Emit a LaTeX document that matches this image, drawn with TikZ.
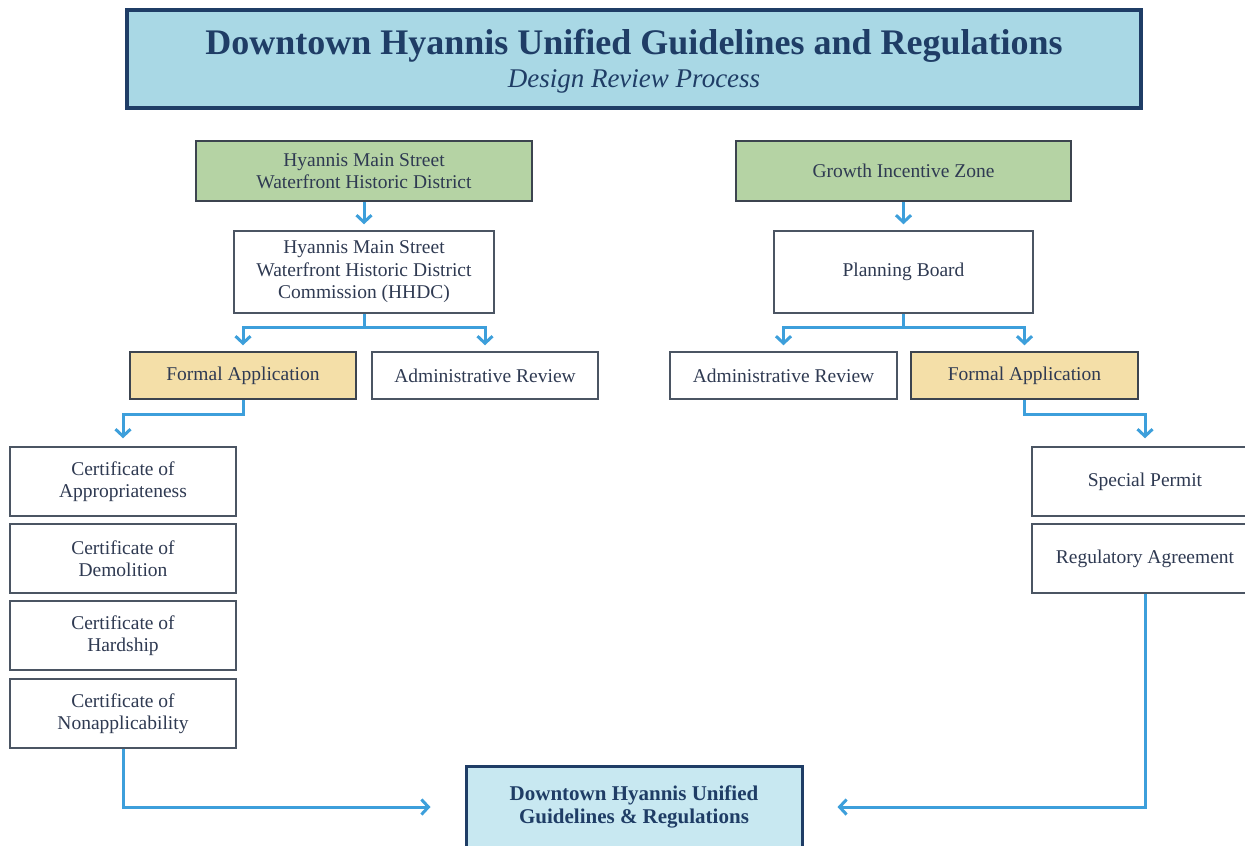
\documentclass[tikz,border=0pt]{standalone}
\usepackage{fontspec}
\setmainfont{Liberation Serif}
\usetikzlibrary{arrows.meta}
\definecolor{navy}{HTML}{1F3D66}
\definecolor{titlefill}{HTML}{A9D8E5}
\definecolor{greenfill}{HTML}{B5D3A4}
\definecolor{tanfill}{HTML}{F4DFA8}
\definecolor{bluefill}{HTML}{C8E8F1}
\definecolor{arrowblue}{HTML}{3D9FDB}
\definecolor{boxtext}{HTML}{2F3A52}
\definecolor{boxline}{HTML}{4B5563}
\begin{document}
\begin{tikzpicture}[x=1pt,y=-1pt,
  box/.style={draw=boxline, line width=1.5pt, text=boxtext, align=center,
    font=\fontsize{19.5}{22.5}\selectfont, inner sep=0pt},
  greenbox/.style={box, fill=greenfill, draw=boxline!80!black},
  tanbox/.style={box, fill=tanfill, draw=boxline!80!black},
  arr/.style={draw=arrowblue, line width=3pt,
    -{Straight Barb[length=7pt,width=15pt]}}]
\useasboundingbox (0,0) rectangle (1245,846);
\fill[white] (0,0) rectangle (1245,846);

% title
\node[draw=navy, line width=4.5pt, fill=titlefill, minimum width=1014pt, minimum height=98pt,
  align=center, text=navy, inner sep=0pt, font=\fontsize{36}{33}\selectfont] (title) at (634,59) {};
\node[text=navy, align=center, inner sep=0pt, font=\fontsize{36}{33}\selectfont] (titletext) at (title.center)
  [yshift=-2pt]
  {{\bfseries Downtown Hyannis Unified Guidelines and Regulations}\\[0pt]
   {\itshape\fontsize{27}{33}\selectfont Design Review Process}};

% left column
\node[greenbox, minimum width=336pt, minimum height=60pt] (gL) at (364,171)
  {Hyannis Main Street\\Waterfront Historic District};
\node[box, minimum width=260pt, minimum height=82pt] (hhdc) at (364,272)
  {Hyannis Main Street\\Waterfront Historic District\\Commission (HHDC)};
\node[tanbox, minimum width=226pt, minimum height=47pt] (faL) at (243,375.5) {Formal Application};
\node[box, minimum width=226pt, minimum height=47pt] (arL) at (485,375.5) {Administrative Review};
\node[box, minimum width=226pt, minimum height=69pt] (c1) at (123,481.5) {Certificate of\\Appropriateness};
\node[box, minimum width=226pt, minimum height=69pt] (c2) at (123,558.5) {Certificate of\\Demolition};
\node[box, minimum width=226pt, minimum height=69pt] (c3) at (123,635.5) {Certificate of\\Hardship};
\node[box, minimum width=226pt, minimum height=69pt] (c4) at (123,713.5) {Certificate of\\Nonapplicability};

% right column
\node[greenbox, minimum width=335pt, minimum height=60pt] (gR) at (903.5,171) {Growth Incentive Zone};
\node[box, minimum width=259pt, minimum height=82pt] (pb) at (903.5,272) {Planning Board};
\node[box, minimum width=227pt, minimum height=47pt] (arR) at (783.5,375.5) {Administrative Review};
\node[tanbox, minimum width=227pt, minimum height=47pt] (faR) at (1024.5,375.5) {Formal Application};
\node[box, minimum width=226pt, minimum height=69pt] (sp) at (1145,481.5) {Special Permit};
\node[box, minimum width=226pt, minimum height=69pt] (ra) at (1145,558.5) {Regulatory Agreement};

% bottom
\node[draw=navy, line width=3pt, fill=bluefill, minimum width=336pt, minimum height=82pt,
  align=center, text=navy, font=\bfseries\fontsize{21}{23.5}\selectfont, inner sep=0pt] (bot) at (634,807)
  {Downtown Hyannis Unified\\Guidelines \& Regulations};

% connectors
\draw[arr, shorten >=6pt] (gL.south) -- (hhdc.north);
\draw[arr, shorten >=6pt] (gR.south) -- (pb.north);
\draw[arr, shorten >=6pt] (hhdc.south) -- ++(0,14) -| (faL.north);
\draw[arr, shorten >=6pt] (hhdc.south) -- ++(0,14) -| (arL.north);
\draw[arr, shorten >=6pt] (pb.south) -- ++(0,14) -| (arR.north);
\draw[arr, shorten >=6pt] (pb.south) -- ++(0,14) -| (faR.north);
\draw[arr, shorten >=8pt] (faL.south) -- ++(0,15) -| (c1.north);
\draw[arr, shorten >=8pt] (faR.south) -- ++(0,15) -| (sp.north);
\draw[arr, shorten >=34pt] (c4.south) |- (bot.west);
\draw[arr, shorten >=34pt] (ra.south) |- (bot.east);
\end{tikzpicture}
\end{document}
